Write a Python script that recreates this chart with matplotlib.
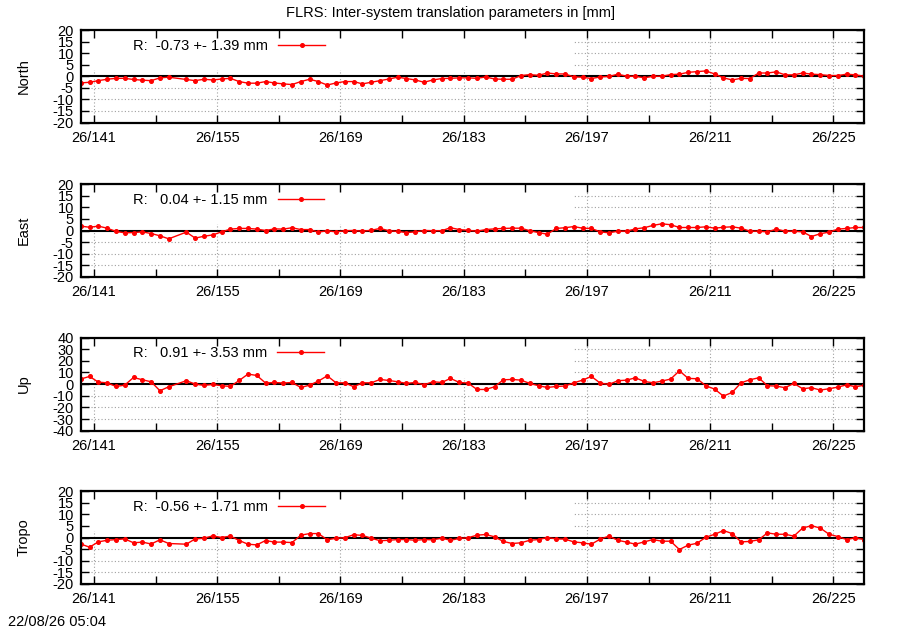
import numpy as np
import matplotlib
matplotlib.use("Agg")
import matplotlib.pyplot as plt
from matplotlib.patches import Rectangle
from matplotlib.lines import Line2D

plt.rcParams['font.family'] = ['Liberation Sans', 'DejaVu Sans']

# ---- data ----
days = list(range(139, 229))          # day of year (2026), epochs at noon
nan = float('nan')

north = [-2.9, -2.6, -1.9, -1.3, -0.9, -0.9, -1.4, -1.7, -1.9, -0.7, -0.4, nan,
         -1.4, -1.9, -1.3, -1.6, -1.2, -0.9, -2.3, -3.0, -3.0, -2.3, -2.9, -3.3,
         -3.6, -2.3, -1.3, -2.3, -3.8, -2.9, -2.3, -2.3, -3.3, -2.6, -1.9, -1.2,
         -0.4, -1.0, -1.6, -2.6, -1.6, -1.0, -0.9, -0.7, -0.7,
         -0.9, -0.3, -1.2, -1.3, -1.3, 0.3, 0.7, 0.4, 1.4, 1.0, 1.0, -0.3, -0.4,
         -1.0, -0.3, -0.1, 0.9, 0.0, 0.0, -0.7, 0.0, 0.0, 0.7, 0.9, 1.7, 2.0,
         2.3, 1.0, -0.7, -1.6, -0.9, -1.0, 1.4, 1.4, 1.9, 0.6, 0.6, 1.4, 0.9,
         0.7, 0.3, 0.3, 0.9, 0.6, 0.0]

east = [1.9, 1.4, 1.9, 1.0, -0.4, -1.0, -0.9, -0.6, -1.3, -2.3, -3.6, nan,
        -0.7, -3.3, -2.5, -1.9, -0.6, 0.6, 0.9, 0.9, 0.6, 0.0, 0.7, 0.6, 1.2,
        0.4, 0.4, -0.7, -0.1, -0.6, -0.1, 0.0, -0.3, 0.1, 0.9, -0.1, -0.4, -0.9,
        -0.6, 0.0, -0.1, -0.1, 1.2, 0.4, 0.1,
        -0.3, 0.4, 0.7, 0.9, 1.0, 1.0, -0.1, -0.9, -1.6, 0.9, 1.2, 1.7, 1.0,
        0.9, -0.6, -1.0, -0.3, -0.3, 0.7, 1.2, 2.2, 2.9, 2.5, 1.3, 1.3, 1.3,
        1.6, 1.0, 1.4, 1.6, 1.0, -0.3, -0.3, -0.6, 0.6, -0.3, -0.3, -0.6, -2.6,
        -1.4, -0.7, 0.6, 0.9, 1.3, 1.3]

up = [4.3, 6.6, 1.7, 1.1, -2.0, -0.9, 5.7, 3.7, 2.0, -5.7, -2.3, nan,
      2.9, 0.0, -1.1, -0.3, -1.4, -2.0, 3.1, 8.6, 7.4, 0.9, 1.4, 0.9, 1.4,
      -2.9, -0.9, 2.6, 7.1, 1.1, 1.1, -2.3, 1.1, 1.1, 4.0, 3.1, 2.0, 0.6, 1.4,
      -0.6, 2.0, 1.4, 4.9, 1.4, 0.9,
      -4.6, -4.6, -2.3, 3.7, 4.0, 3.4, 0.6, -1.4, -2.9, -2.0, -1.7, 1.1, 3.4,
      6.6, 0.9, -0.3, 2.9, 3.4, 5.4, 2.3, 1.1, 2.6, 4.3, 11.4, 4.9, 4.6, -1.4,
      -4.3, -10.3, -7.1, 1.1, 3.7, 5.4, -1.4, -1.7, -3.1, 0.6, -4.0, -3.1,
      -5.1, -4.0, -2.6, -0.6, -2.3, -0.9]

tropo = [-2.8, -4.2, -1.9, -1.2, -0.9, -0.6, -2.3, -2.0, -2.8, -1.0, -2.6, nan,
         -2.9, -0.6, -0.3, 0.7, 0.0, 0.6, -1.3, -2.9, -3.2, -1.3, -2.0, -2.0,
         -2.2, 1.0, 1.7, 1.7, -1.0, -0.3, -0.1, 1.2, 0.9, -0.3, -1.4, -1.2,
         -0.9, -0.9, -1.2, -0.9, -1.0, -0.3, -1.2, -0.4, -0.1,
         1.0, 1.3, 0.3, -1.7, -2.6, -2.3, -1.2, -0.9, 0.0, -0.6, -0.7, -1.9,
         -2.3, -2.9, -0.7, 0.6, -1.2, -2.0, -2.9, -1.9, -0.9, -1.6, -1.6, -5.2,
         -3.3, -2.5, 0.1, 1.4, 3.0, 1.7, -1.9, -1.7, -1.0, 2.0, 1.4, 1.4, 0.6,
         4.1, 5.1, 4.1, 1.4, 0.4, -0.9, -0.1, -0.9]

panel_names = ["North", "East", "Up", "Tropo"]
panel_series = [north, east, up, tropo]
panel_legend = ["R:  -0.73 +- 1.39 mm", "R:   0.04 +- 1.15 mm",
                "R:   0.91 +- 3.53 mm", "R:  -0.56 +- 1.71 mm"]
panel_ylim = [20, 20, 40, 20]
panel_ystep = [5, 5, 10, 5]

xtick_days = [141, 155, 169, 183, 197, 211, 225]
xtick_labels = ["26/141", "26/155", "26/169", "26/183", "26/197", "26/211", "26/225"]
xminor_days = [148, 162, 176, 190, 204, 218]

title = "FLRS: Inter-system translation parameters in [mm]"
stamp = "22/08/26 05:04"

# ---- figure ----
W, H = 900, 630
fig = plt.figure(figsize=(9, 6.3), dpi=100)
left_px, right_px = 80.7, 864.3
panels_px = [(30.0, 122.5), (184.3, 276.7), (337.5, 430.7), (491.3, 583.7)]
FS = 10.5

for name, vals, leg, ylim, ystep, (top, bot) in zip(panel_names, panel_series, panel_legend,
                                                  panel_ylim, panel_ystep, panels_px):
    ax = fig.add_axes([left_px / W, 1 - bot / H, (right_px - left_px) / W, (bot - top) / H])
    x = np.array(days, dtype=float) + 0.5
    y = np.array(vals, dtype=float)
    m = ~np.isnan(y)
    ax.set_xlim(139.5, 228.5)
    ax.set_ylim(-ylim, ylim)
    yt = np.arange(-ylim, ylim + 0.1, ystep)
    ax.set_yticks(yt)
    ax.set_yticklabels([f"{int(v)}" for v in yt])
    ax.set_xticks(xtick_days)
    ax.set_xticklabels(xtick_labels)
    ax.set_xticks(xminor_days, minor=True)

    # grid (dotted)
    for v in yt[1:-1]:
        if v != 0:
            ax.axhline(v, color='#a0a0a0', lw=0.8, ls=(0, (1, 2)), zorder=0.5)
    for d in xtick_days:
        ax.axvline(d, color='#a0a0a0', lw=0.8, ls=(0, (1, 2)), zorder=0.5)
    # opaque key area
    ax.add_patch(Rectangle((0, 0.57), 0.628, 0.43, transform=ax.transAxes,
                           facecolor='white', edgecolor='none', zorder=1))
    ax.axhline(0, color='black', lw=1.5, zorder=2)

    ax.plot(x[m], y[m], color='#ff0000', lw=1.0, marker='o', ms=2.6,
            mec='#ff0000', mfc='#ff0000', zorder=3)

    handle = Line2D([], [], color='#ff0000', lw=1.0, marker='o', ms=2.6)
    ax.legend([handle], [leg], loc='center left',
              bbox_to_anchor=((133 - left_px) / (right_px - left_px), 1 - 15.7 / (bot - top)),
              markerfirst=False, frameon=False, handlelength=3.2, handletextpad=0.7,
              borderpad=0, borderaxespad=0, fontsize=FS, numpoints=1)

    ax.tick_params(axis='both', which='both', direction='in', top=True, right=True,
                   length=6, width=1.0, labelsize=FS)
    ax.tick_params(axis='y', pad=5)
    ax.tick_params(axis='x', pad=6)
    for sp in ax.spines.values():
        sp.set_linewidth(1.6)
        sp.set_zorder(4)
    ax.set_ylabel(name, fontsize=FS)
    ax.yaxis.set_label_coords((31 - left_px) / (right_px - left_px), 0.5)

fig.text(0.5, 1 - 13 / H, title, ha='center', va='center', fontsize=FS)
fig.text(8 / W, 1 - 621.5 / H, stamp, ha='left', va='center', fontsize=FS)

fig.savefig("out.png", dpi=100)
